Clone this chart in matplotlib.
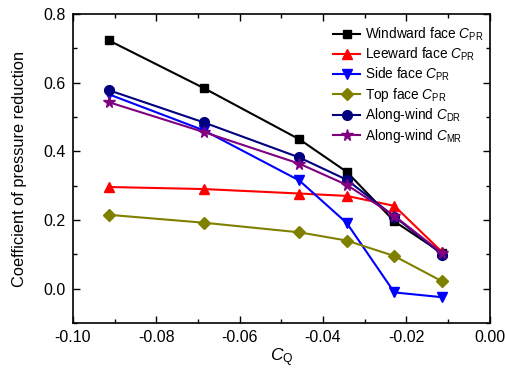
import matplotlib
matplotlib.use("Agg")
import matplotlib.pyplot as plt
from matplotlib.ticker import MultipleLocator

plt.rcParams["font.family"] = ["Liberation Sans", "DejaVu Sans"]
plt.rcParams["mathtext.fontset"] = "custom"
plt.rcParams["mathtext.rm"] = "Liberation Sans"
plt.rcParams["mathtext.it"] = "Liberation Sans:italic"

# Datos
cq = [-0.0914, -0.0686, -0.0457, -0.0343, -0.0229, -0.0114]
windward = [0.723, 0.584, 0.435, 0.340, 0.196, 0.103]
leeward = [0.296, 0.290, 0.277, 0.270, 0.241, 0.106]
side = [0.566, 0.461, 0.315, 0.191, -0.011, -0.025]
top = [0.215, 0.192, 0.164, 0.140, 0.095, 0.021]
along_dr = [0.578, 0.484, 0.382, 0.317, 0.210, 0.099]
along_mr = [0.543, 0.456, 0.364, 0.302, 0.212, 0.103]

series = [
    (windward, r"Windward face $\mathit{C}_{\mathrm{PR}}$", "black", "s", 6),
    (leeward, r"Leeward face $\mathit{C}_{\mathrm{PR}}$", "red", "^", 7),
    (side, r"Side face $\mathit{C}_{\mathrm{PR}}$", "blue", "v", 7),
    (top, r"Top face $\mathit{C}_{\mathrm{PR}}$", "#808000", "D", 6),
    (along_dr, r"Along-wind $\mathit{C}_{\mathrm{DR}}$", "#000080", "o", 7),
    (along_mr, r"Along-wind $\mathit{C}_{\mathrm{MR}}$", "#800080", "*", 8.5),
]

fig = plt.figure(figsize=(5.06, 3.76), dpi=100)
ax = fig.add_axes([0.144, 0.141, 0.824, 0.822])

for valores, rotulo, cor, marcador, tam in series:
    ax.plot(cq, valores, color=cor, marker=marcador, markersize=tam,
            linewidth=1.5, label=rotulo)

ax.set_xlim(-0.10, 0.0)
ax.set_ylim(-0.1, 0.8)
ax.xaxis.set_major_locator(MultipleLocator(0.02))
ax.xaxis.set_minor_locator(MultipleLocator(0.01))
ax.yaxis.set_major_locator(MultipleLocator(0.2))
ax.yaxis.set_minor_locator(MultipleLocator(0.1))
# round + 0.0 evita o "-0.00"
ax.xaxis.set_major_formatter(lambda v, p: f"{round(v, 2) + 0.0:.2f}")
ax.yaxis.set_major_formatter(lambda v, p: f"{round(v, 1) + 0.0:.1f}")
ax.tick_params(which="both", direction="in", top=True, right=True, width=1)
ax.tick_params(axis="x", labelsize=11.5)
ax.tick_params(axis="y", labelsize=11.5)
ax.tick_params(which="major", length=5, pad=5)
ax.tick_params(which="minor", length=3)
for s in ax.spines.values():
    s.set_linewidth(1.2)

ax.set_xlabel(r"$\mathit{C}_{\mathrm{Q}}$", fontsize=12.5, labelpad=1)
ax.set_ylabel("Coefficient of pressure reduction", fontsize=11.8, labelpad=12)

ax.legend(loc="upper right", bbox_to_anchor=(1.0, 0.985), frameon=False,
          fontsize=9.8, handlelength=2.0, handletextpad=0.3,
          labelspacing=0.2, borderaxespad=0.1)

fig.savefig("out.png", dpi=100)
